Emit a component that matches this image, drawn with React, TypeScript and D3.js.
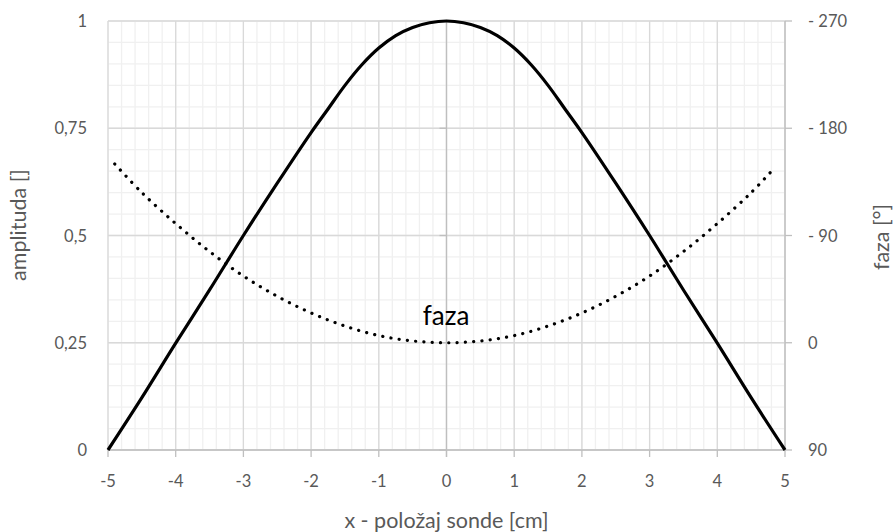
import React from 'react';
import * as d3 from 'd3';

// amplitude, x in cm
const ampX = [-5, -4.5, -4, -3.5, -3, -2.5, -2, -1.75, -1.5, -1.25, -1, -0.75, -0.5, -0.25, 0,
  0.25, 0.5, 0.75, 1, 1.25, 1.5, 1.75, 2, 2.5, 3, 3.5, 4, 4.5, 5];
const ampY = [0, 0.122, 0.249, 0.373, 0.5, 0.622, 0.74, 0.795, 0.85, 0.898, 0.937, 0.966, 0.985, 0.996, 1,
  0.996, 0.985, 0.966, 0.937, 0.898, 0.85, 0.795, 0.74, 0.622, 0.5, 0.373, 0.249, 0.122, 0];

// phase in degrees (right axis)
const phaseX = [-4.9, -4.5, -4, -3.5, -3, -2.5, -2, -1.5, -1, -0.5, 0, 0.5, 1, 1.5, 2, 2.5, 3, 3.5, 4, 4.5, 4.85];
const phaseY = [150, 126, 100, 76.5, 56, 39, 25, 14, 6, 1.5, 0, 1.5, 6, 14, 25, 39, 56, 76.5, 100, 126, 147];

const xTicks = [-5, -4, -3, -2, -1, 0, 1, 2, 3, 4, 5];
const leftTicks = [0, 0.25, 0.5, 0.75, 1];
const leftTickLabels = ['0', '0,25', '0,5', '0,75', '1'];
const rightTicks = [-90, 0, 90, 180, 270];

const W = 893, H = 532;
const margin = { left: 108, right: 108, top: 21, bottom: 82 };
const font = 'Lato, "Open Sans", sans-serif';
const textCol = '#595959';

export default function App() {
  const x = d3.scaleLinear().domain([-5, 5]).range([margin.left, W - margin.right]);
  const y = d3.scaleLinear().domain([0, 1]).range([H - margin.bottom, margin.top]);
  const yR = d3.scaleLinear().domain([-90, 270]).range([H - margin.bottom, margin.top]);

  const minorX = d3.range(-5, 5.001, 0.2);
  const minorY = d3.range(0, 1.001, 0.05);

  const ampLine = d3.line<number>()
    .x((d, i) => x(ampX[i]))
    .y(d => y(d))
    .curve(d3.curveCatmullRom);
  const phaseLine = d3.line<number>()
    .x((d, i) => x(phaseX[i]))
    .y(d => yR(d))
    .curve(d3.curveCatmullRom);

  const fmtR = (v: number) => (v > 0 ? '- ' + v : String(Math.abs(v)));
  const x0 = x.range()[0], x1 = x.range()[1];
  const yb = y.range()[0], yt = y.range()[1];

  return (
    <svg width={W} height={H} style={{ position: 'absolute', left: 0, top: 0 }} fontFamily={font}>
      <rect width={W} height={H} fill="#fff" />
      {minorX.map((v, i) => (
        <line key={'mx' + i} x1={x(v)} x2={x(v)} y1={yt} y2={yb} stroke="#f0f0f0" strokeWidth={1.3} />
      ))}
      {minorY.map((v, i) => (
        <line key={'my' + i} x1={x0} x2={x1} y1={y(v)} y2={y(v)} stroke="#f0f0f0" strokeWidth={1.3} />
      ))}
      {xTicks.map(v => (
        <line key={'gx' + v} x1={x(v)} x2={x(v)} y1={yt} y2={yb} stroke="#d9d9d9" strokeWidth={1.3} />
      ))}
      {leftTicks.map(v => (
        <line key={'gy' + v} x1={x0} x2={x1} y1={y(v)} y2={y(v)} stroke="#d9d9d9" strokeWidth={1.3} />
      ))}
      {/* vertical axis through x = 0 */}
      <line x1={x(0)} x2={x(0)} y1={yt} y2={yb + 7} stroke="#bfbfbf" strokeWidth={1.3} />
      {leftTicks.map(v => (
        <line key={'vt' + v} x1={x(0) - 7} x2={x(0)} y1={y(v)} y2={y(v)} stroke="#bfbfbf" strokeWidth={1.3} />
      ))}
      {/* bottom axis */}
      <line x1={x0} x2={x1} y1={yb} y2={yb} stroke="#bfbfbf" strokeWidth={1.3} />
      {xTicks.map(v => (
        <line key={'bt' + v} x1={x(v)} x2={x(v)} y1={yb} y2={yb + 7} stroke="#bfbfbf" strokeWidth={1.3} />
      ))}
      {/* right axis */}
      <line x1={x1} x2={x1} y1={yt} y2={yb} stroke="#bfbfbf" strokeWidth={1.3} />
      {rightTicks.map(v => (
        <line key={'rt' + v} x1={x1} x2={x1 + 7} y1={yR(v)} y2={yR(v)} stroke="#bfbfbf" strokeWidth={1.3} />
      ))}

      <path d={phaseLine(phaseY) || ''} fill="none" stroke="#000" strokeWidth={3.2}
        strokeLinecap="round" strokeDasharray="0.1 8.2" />
      <path d={ampLine(ampY) || ''} fill="none" stroke="#000" strokeWidth={3.2} strokeLinejoin="round" />

      {xTicks.map(v => (
        <text key={'xl' + v} x={x(v)} y={yb + 37} textAnchor="middle" fontSize={16.5} fill={textCol}>{v}</text>
      ))}
      {leftTicks.map((v, i) => (
        <text key={'yl' + v} x={x0 - 21} y={y(v) + 6} textAnchor="end" fontSize={16.5} fill={textCol}>{leftTickLabels[i]}</text>
      ))}
      {rightTicks.map(v => (
        <text key={'rl' + v} x={x1 + 23} y={yR(v) + 6} textAnchor="start" fontSize={16.5} fill={textCol}>{fmtR(v)}</text>
      ))}

      <text x={(x0 + x1) / 2} y={528} textAnchor="middle" fontSize={21.5} fill={textCol}>x - položaj sonde [cm]</text>
      <text transform={`translate(26,225) rotate(-90)`} textAnchor="middle" fontSize={21.5} fill={textCol}>amplituda []</text>
      <text transform={`translate(889,237) rotate(-90)`} textAnchor="middle" fontSize={21.5} fill={textCol}>faza [°]</text>

      <text x={446} y={325} textAnchor="middle" fontSize={26} fill="#000">faza</text>
    </svg>
  );
}
